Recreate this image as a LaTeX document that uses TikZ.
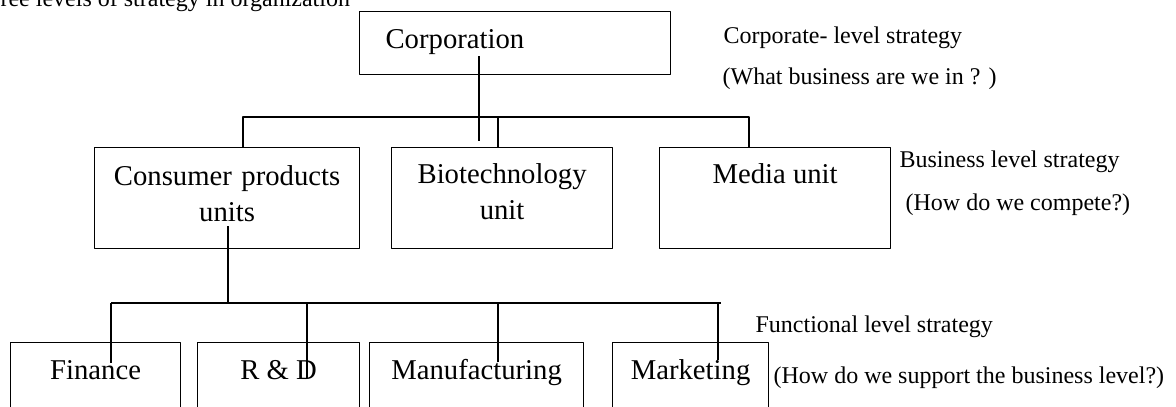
\documentclass[tikz,border=0pt]{standalone}
\usepackage{fontspec}
\setmainfont{Liberation Serif}
\begin{document}
\begin{tikzpicture}[x=1pt,y=-1pt,line join=round,line width=1.2pt,
	box/.style={draw,rectangle,inner sep=0pt,anchor=north west},
	big/.style={font=\fontsize{28.7}{36}\selectfont,inner sep=0pt},
	small/.style={font=\fontsize{24}{29}\selectfont,inner sep=0pt,anchor=base west}]
	%three levels of strategy
	\useasboundingbox (0,0) rectangle (1176,407);
	\clip (0,0) rectangle (1176,407);
	\node[small] (title) at (0,6) {ree levels of strategy in organization};
	\node[box,minimum width=311pt,minimum height=63pt] (corp) at (359,11) {};
	\node[big,anchor=base west] (corp-t) at ([xshift=26pt,yshift=-37pt]corp.north west) {Corporation};
	\node[box,minimum width=265pt,minimum height=101pt] (cons) at (94,147) {};
	\node[box,minimum width=221pt,minimum height=101pt] (bio) at (391,147) {};
	\node[box,minimum width=231pt,minimum height=101pt] (media) at (659,147) {};
	\node[big,anchor=base,text width=265pt,align=center] (cons-t) at ([yshift=-38pt]cons.north) {Consumer products\\units};
	\node[big,anchor=base,text width=221pt,align=center] (bio-t) at ([yshift=-36pt]bio.north) {Biotechnology\\unit};
	\node[big,anchor=base] (media-t) at ([yshift=-36pt]media.north) {Media unit};
	\foreach \n/\x/\w/\t in {fin/10/170/Finance,rd/197/162/R \& D,manu/369/214/Manufacturing,mkt/612/156/Marketing}{
		\node[box,minimum width=\w pt,minimum height=110pt] (\n) at (\x,342) {};
		\node[big,anchor=base] (\n-t) at ([yshift=-37pt]\n.north) {\t};}
	% connectors
	\coordinate (corp-c) at (479,56);
	\coordinate (corp-d) at (479,141);
	\coordinate (bus-a) at (243,117);
	\coordinate (bus-b) at (749,117);
	\coordinate (bus-c) at (498,117);
	\draw (corp-c) -- (corp-d);
	\draw (cons.north -| bus-a) -- (bus-a) -- (bus-b) -- (media.north -| bus-b);
	\draw (bus-c) -- (bus-c |- bio.north);
	\coordinate (cons-c) at (228,226);
	\coordinate (sub-a) at (111,303);
	\coordinate (sub-b) at (721,303);
	\draw (cons-c) -- (cons-c |- sub-a);
	\draw (sub-a) -- (sub-b);
	\foreach \n/\x/\y in {fin/111/363,rd/307/378,manu/498/362,mkt/718/360}
	\draw (\x,303) coordinate (\n-c) -- (\x,\y);
	% level texts
	\node[small] (corp-lvl) at (723,43) {Corporate- level strategy};
	\node[small] (corp-q) at (722,84) {(What business are we in ? )};
	\node[small] (bus-lvl) at (899,167) {Business level strategy};
	\node[small] (bus-q) at (905,210) {(How do we compete?)};
	\node[small] (fun-lvl) at (755,332) {Functional level strategy};
	\node[small] (fun-q) at (773,383) {(How do we support the business level?)};
\end{tikzpicture}
\end{document}
